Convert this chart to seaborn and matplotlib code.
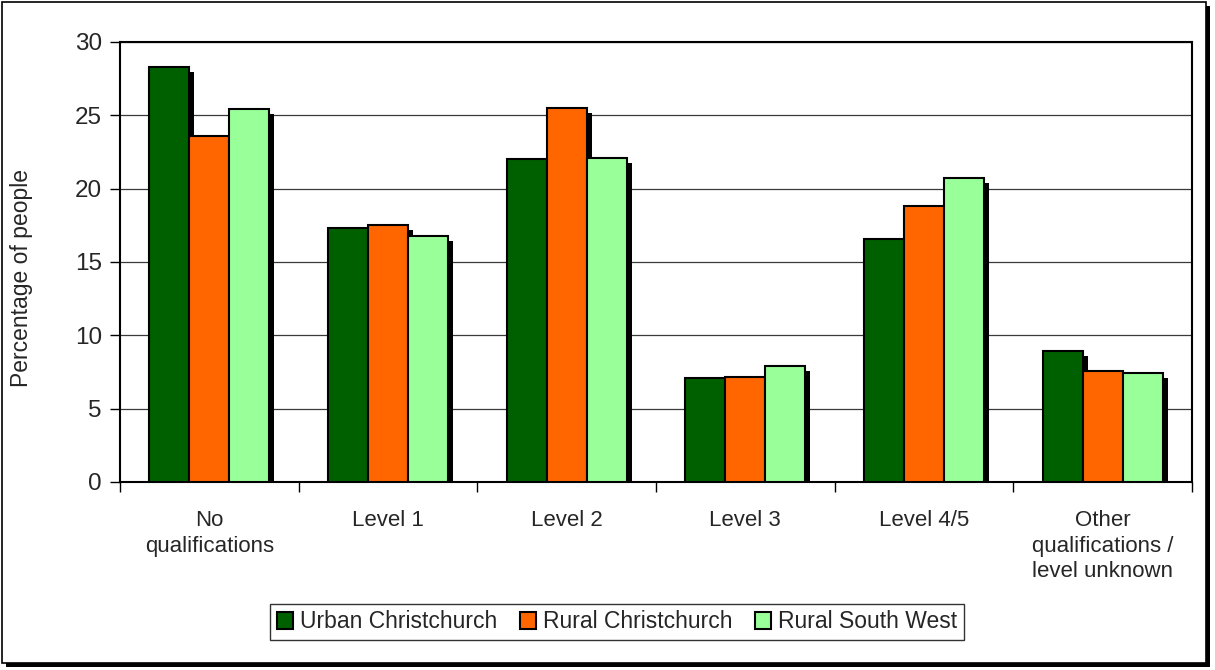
import pandas as pd
import seaborn as sns
import matplotlib.pyplot as plt
import matplotlib.patheffects as pe
from matplotlib.patches import Rectangle, Patch

categories = ["No\nqualifications", "Level 1", "Level 2", "Level 3", "Level 4/5",
              "Other\nqualifications /\nlevel unknown"]
series = ["Urban Christchurch", "Rural Christchurch", "Rural South West"]
urban_chc = [28.3, 17.3, 22.0, 7.1, 16.6, 8.9]
rural_chc = [23.6, 17.5, 25.5, 7.15, 18.85, 7.6]
rural_sw = [25.4, 16.8, 22.1, 7.9, 20.7, 7.4]
colors = ["#006000", "#FF6600", "#99FF99"]

rows = []
for name, vals in zip(series, [urban_chc, rural_chc, rural_sw]):
    for cat, v in zip(categories, vals):
        rows.append({"Category": cat, "Series": name, "Value": v})
df = pd.DataFrame(rows)

sns.set_theme(style="white")
plt.rcParams["font.family"] = ["Liberation Sans", "DejaVu Sans"]

fig = plt.figure(figsize=(12.15, 6.7), dpi=100)
ax = fig.add_axes([120 / 1215, 1 - 482 / 670, (1192 - 120) / 1215, (482 - 42) / 670])

# outer chart frame with shadow
fig.patches.append(Rectangle((6 / 1215, 1 - 667 / 670), 1204 / 1215, 661 / 670,
                             transform=fig.transFigure, facecolor="black", edgecolor="none", zorder=-2))
fig.patches.append(Rectangle((2 / 1215, 1 - 663 / 670), 1204 / 1215, 661 / 670,
                             transform=fig.transFigure, facecolor="white", edgecolor="black",
                             linewidth=1.2, zorder=-1))

sns.barplot(data=df, x="Category", y="Value", hue="Series", palette=colors, width=0.67,
            edgecolor="black", linewidth=1.5, saturation=1, ax=ax, legend=False, zorder=3)

for bar in ax.patches:
    bar.set_path_effects([pe.SimplePatchShadow(offset=(3.6, -3.6), shadow_rgbFace="black", alpha=1.0),
                          pe.Normal()])

ax.set_ylim(0, 30)
ax.set_xlim(-0.5, 5.5)
ax.set_yticks(range(0, 31, 5))
ax.yaxis.grid(True, color="#3a3a3a", linewidth=0.9)
ax.set_axisbelow(True)
for s in ax.spines.values():
    s.set_color("black")
    s.set_linewidth(1.5)

ax.set_xlabel("")
ax.set_ylabel("Percentage of people", fontsize=16.5)
ax.yaxis.set_label_coords(-0.081, 0.464)
ax.tick_params(axis="y", labelsize=17.5, length=7, width=1, left=True, color="black", pad=6)
ax.tick_params(axis="x", labelsize=16, length=0, pad=20)
ax.set_xticks([i - 0.5 for i in range(7)], minor=True)
ax.tick_params(axis="x", which="minor", length=7, width=1, bottom=True, color="black")
for lbl in ax.get_xticklabels():
    lbl.set_verticalalignment("top")
    lbl.set_multialignment("center")
    lbl.set_linespacing(1.3)

handles = [Patch(facecolor=c, edgecolor="black", linewidth=1.5) for c in colors]
leg = fig.legend(handles, series, loc="center", bbox_to_anchor=(617 / 1215, 1 - 622 / 670), ncol=3,
                 fontsize=16.5, frameon=True, fancybox=False, handlelength=0.7, handleheight=0.7,
                 handletextpad=0.3, columnspacing=1.0, borderpad=0.3)
leg.get_frame().set_edgecolor("black")
leg.get_frame().set_linewidth(1.0)

fig.savefig("out.png", dpi=100)
